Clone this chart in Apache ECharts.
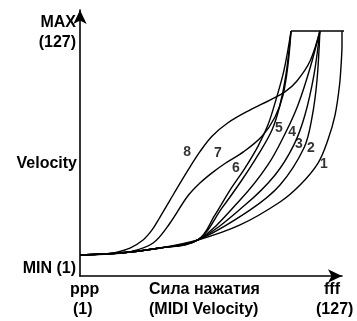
<!DOCTYPE html>
<html>
<head>
<meta charset="utf-8">
<script src="https://cdn.jsdelivr.net/npm/echarts@6/dist/echarts.min.js"></script>
<style>
    html, body { margin: 0; padding: 0; background: #fff; }
    #chart { width: 357px; height: 321px; }
</style>
</head>
<body>
<div id="chart"></div>
<script>
    // кривые чувствительности (x — сила нажатия, y — velocity)
    var curve1 = [[0, 10.9], [19.5, 11.9], [39.1, 14.5], [57.6, 18.7], [78.2, 26.5], [97.7, 38.4], [107.5, 47.2], [116.3, 58.6], [121.1, 70.6], [124.6, 83.5], [126.8, 99.1], [127.7, 112], [128, 120], [128, 127.1]];
    var curve2 = [[0, 10.9], [19.5, 11.9], [39.1, 14.5], [57.6, 18.7], [83.0, 34.2], [97.7, 47.2], [109.4, 66.4], [113.3, 82.0], [115.8, 101.7], [117.2, 127.1]];
    var curve3 = [[0, 10.9], [19.5, 11.9], [39.1, 14.5], [57.6, 18.7], [80.6, 36.8], [95.3, 52.4], [104.5, 68.0], [109.9, 83.5], [114.3, 104.3], [117.2, 127.1]];
    var curve4 = [[0, 10.9], [19.5, 11.9], [39.1, 14.5], [57.6, 18.7], [78.2, 39.4], [91.8, 57.6], [100.6, 74.7], [106.5, 88.7], [112.4, 107.9], [117.2, 127.1]];
    var curve5 = [[0, 10.9], [19.5, 11.9], [39.1, 14.5], [57.6, 18.7], [69.4, 35.3], [79.1, 49.8], [87.0, 62.8], [93.8, 75.7], [97.7, 88.7], [100.6, 104.3], [103.1, 127.1]];
    var curve6 = [[0, 10.9], [19.5, 11.9], [39.1, 14.5], [57.6, 18.7], [65.9, 31.6], [73.3, 44.6], [80.6, 56.0], [87.0, 67.4], [91.8, 78.3], [95.7, 91.3], [99.7, 106.9], [103.1, 127.1]];
    var curve7 = [[0, 10.9], [14.7, 11.4], [24.4, 12.5], [35.7, 17.1], [44.0, 27.5], [52.3, 41.0], [58.6, 48.2], [64.5, 53.5], [71.0, 58.5], [80.0, 64.5], [88.9, 72.5], [95.3, 82.5], [99.2, 93.9], [101.6, 109.5], [103.1, 127.1]];
    var curve8 = [[0, 10.9], [9.8, 11.2], [16.1, 11.9], [24.4, 14.5], [30.8, 18.7], [35.2, 23.9], [39.1, 30.6], [44.0, 39.4], [48.9, 48.2], [53.7, 56.5], [58.6, 64.5], [64.5, 72.5], [72.3, 79.5], [83.0, 86.1], [92.8, 91.3], [100.1, 95.5], [106.0, 101.2], [112.4, 111.5], [117.2, 127.1]];
    var maxLine = [[103.1, 127.1], [134, 127.1]];

    var curveNames = ['1', '2', '3', '4', '5', '6', '7', '8'];
    var labelPos = [[119.2, 58.1], [112.8, 66.4], [107.0, 68.5], [103.6, 74.7], [97.2, 76.8], [76.2, 56.0], [67.4, 63.8], [52.3, 64.3]];

    var curves = [curve1, curve2, curve3, curve4, curve5, curve6, curve7, curve8];
    var font = 'Liberation Sans, Arial, sans-serif';
    var bold = 'bold 16px ' + font;

    var myChart = echarts.init(document.getElementById('chart'));

    var series = [];
    for (var i = 0; i < curves.length; i++) {
        series.push({
            name: curveNames[i],
            type: 'line',
            data: curves[i],
            smooth: 0.35,
            symbol: 'none',
            clip: false,
            lineStyle: { color: '#000', width: 1.4 }
        });
    }
    // горизонталь MAX
    series.push({
        type: 'line',
        data: maxLine,
        symbol: 'none',
        clip: false,
        lineStyle: { color: '#000', width: 1.4 }
    });
    // номера кривых
    series.push({
        type: 'scatter',
        symbolSize: 1,
        itemStyle: { color: 'rgba(0,0,0,0)' },
        data: labelPos.map(function (p, k) { return { name: curveNames[k], value: p }; }),
        label: {
            show: true,
            position: 'inside',
            formatter: '{b}',
            color: '#000',
            fontFamily: font,
            fontWeight: 'bold',
            fontSize: 14
        }
    });

    function txt(pos, s) {
        pos.style = { text: s, fill: '#000', font: bold };
        pos.type = 'text';
        return pos;
    }

    var option = {
        animation: false,
        grid: { left: 80, top: 10, right: 15, bottom: 45 },
        xAxis: {
            type: 'value', min: 0, max: 128,
            axisLine: { show: true, symbol: ['none', 'arrow'], symbolSize: [10, 14], lineStyle: { color: '#000', width: 1.6 } },
            axisTick: { show: false }, axisLabel: { show: false }, splitLine: { show: false }
        },
        yAxis: {
            type: 'value', min: 0, max: 138,
            axisLine: { show: true, symbol: ['none', 'arrow'], symbolSize: [10, 14], lineStyle: { color: '#000', width: 1.6 } },
            axisTick: { show: false }, axisLabel: { show: false }, splitLine: { show: false }
        },
        series: series,
        graphic: [
            txt({ right: 357 - 76, top: 15 }, 'MAX'),
            txt({ right: 357 - 76, top: 35 }, '(127)'),
            txt({ right: 357 - 77, top: 156 }, 'Velocity'),
            txt({ right: 357 - 76, top: 261 }, 'MIN (1)'),
            txt({ left: 70, top: 282 }, 'ppp'),
            txt({ left: 73, top: 302 }, '(1)'),
            txt({ left: 149, top: 282 }, 'Сила нажатия'),
            txt({ left: 149, top: 302 }, '(MIDI Velocity)'),
            txt({ left: 324, top: 282 }, 'fff'),
            txt({ left: 316, top: 302 }, '(127)')
        ]
    };

    myChart.setOption(option);
</script>
</body>
</html>
